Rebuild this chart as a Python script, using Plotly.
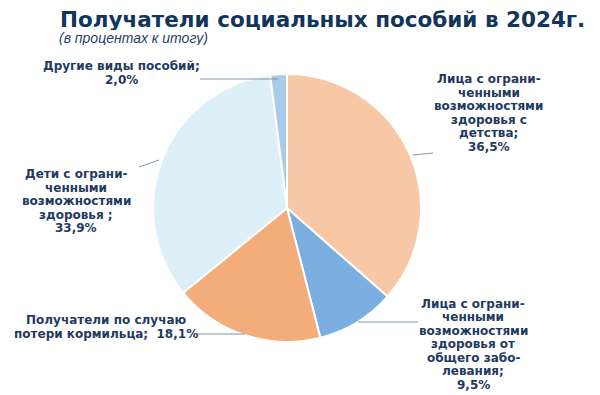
import plotly.graph_objects as go

categories = [
    "Лица с ограни-<br>ченными<br>возможностями<br>здоровья с<br>детства;",
    "Лица с ограни-<br>ченными<br>возможностями<br>здоровья от<br>общего забо-<br>левания;",
    "Получатели по случаю<br>потери кормильца; ",
    "Дети с ограни-<br>ченными<br>возможностями<br>здоровья ;",
    "Другие виды пособий;",
]
values = [36.5, 9.5, 18.1, 33.9, 2.0]
colors = ["#F8C8A6", "#7AAFE0", "#F2AD7B", "#DDF0F7", "#A9CBEB"]

# label placement (paper px from top-left) and separator before the value
label_pos = [(489, 113, "<br>"), (473, 344, "<br>"), (106, 327, " "), (76, 201, "<br>"), (121, 73, "<br>")]
leaders = [((413, 155), (433, 153)), ((358, 322), (418, 322)), ((197, 334), (245, 334)),
           ((139, 167), (159, 160)), ((200, 79), (278, 79))]

W, H = 600, 395
cx, cy, r = 287, 208, 134
LINE = 13.5

def px(x):
    return x / W

def py(y):
    return 1 - y / H

fig = go.Figure(go.Pie(
    labels=[c.replace("<br>", " ") for c in categories],
    values=values,
    sort=False,
    direction="clockwise",
    rotation=0,
    marker=dict(colors=colors, line=dict(color="white", width=2)),
    textinfo="none",
    domain=dict(x=[px(cx - r), px(cx + r)], y=[py(cy + r), py(cy - r)]),
    showlegend=False,
))

annotations = [
    dict(x=px(58), y=py(19), xref="paper", yref="paper", xanchor="left", yanchor="middle",
         text="<b>Получатели социальных пособий в 2024г.</b>", showarrow=False, height=22,
         font=dict(family="DejaVu Sans", size=21.5, color="#12355B")),
    dict(x=px(57), y=py(38), xref="paper", yref="paper", xanchor="left", yanchor="middle",
         text="<i>(в процентах к итогу)</i>", showarrow=False, height=14,
         font=dict(family="Liberation Sans", size=14, color="#1F3F66")),
]
for cat, val, (lx, ly, sep) in zip(categories, values, label_pos):
    txt = cat + sep + f"{val:.1f}".replace(".", ",") + "%"
    lines = txt.split("<br>")
    n = len(lines)
    for i, ln in enumerate(lines):
        yy = ly + (i - (n - 1) / 2) * LINE
        annotations.append(dict(
            x=px(lx), y=py(yy), xref="paper", yref="paper", xanchor="center", yanchor="middle",
            text=f"<b>{ln}</b>", showarrow=False, align="center",
            font=dict(family="DejaVu Sans", size=12, color="#1F3A5F")))

shapes = []
for (x0, y0), (x1, y1) in leaders:
    shapes.append(dict(type="line", xref="paper", yref="paper", x0=px(x0), y0=py(y0),
                       x1=px(x1), y1=py(y1), line=dict(color="#7F93A8", width=1)))

fig.update_layout(width=W, height=H, margin=dict(l=0, r=0, t=0, b=0),
                  paper_bgcolor="white", plot_bgcolor="white",
                  annotations=annotations, shapes=shapes)
fig.write_html("out.html", config={"displayModeBar": False},
               post_script="document.body.style.margin='0';document.body.style.overflow='hidden';")
